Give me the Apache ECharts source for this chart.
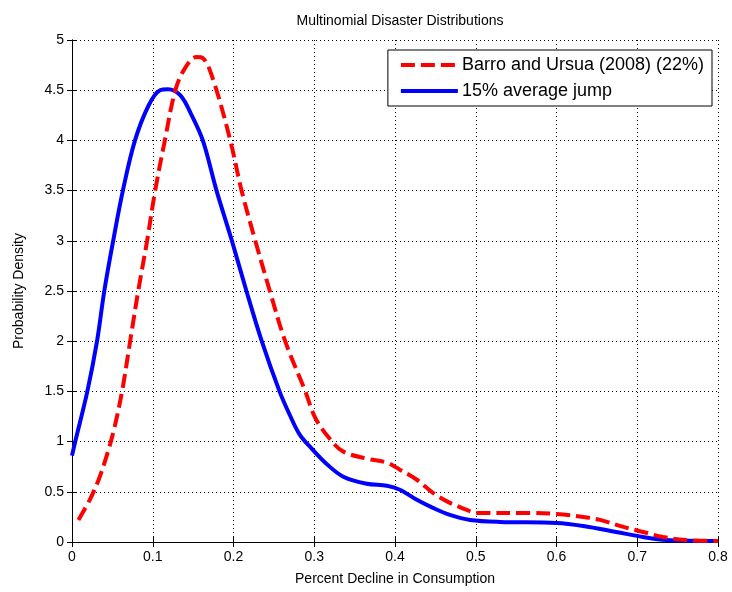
<!DOCTYPE html>
<html>
<head>
<meta charset="utf-8">
<script src="https://cdn.jsdelivr.net/npm/echarts@6/dist/echarts.min.js"></script>
<style>
  html, body { margin: 0; padding: 0; background: #fff; }
</style>
</head>
<body>
<div id="main" style="width: 732px; height: 592px;"></div>
<script type="text/javascript">
// x-ticks and y-ticks
var xTicks = [0, 0.1, 0.2, 0.3, 0.4, 0.5, 0.6, 0.7, 0.8];
var yTicks = [0, 0.5, 1, 1.5, 2, 2.5, 3, 3.5, 4, 4.5, 5];

// Barro and Ursua (2008) (22%)
var barroX = [0.008, 0.022, 0.033, 0.043, 0.052, 0.062, 0.072, 0.082, 0.093, 0.103, 0.115, 0.128, 0.14, 0.154, 0.162, 0.175, 0.196, 0.21, 0.227, 0.245, 0.264, 0.289, 0.301, 0.32, 0.336, 0.365, 0.39, 0.406, 0.427, 0.447, 0.468, 0.489, 0.5, 0.57, 0.6, 0.633, 0.654, 0.683, 0.707, 0.732, 0.76, 0.8];
var barroY = [0.22, 0.42, 0.62, 0.86, 1.12, 1.5, 2.0, 2.5, 3.0, 3.5, 4.0, 4.5, 4.72, 4.83, 4.82, 4.6, 4.0, 3.5, 3.0, 2.5, 2.0, 1.5, 1.24, 1.02, 0.9, 0.83, 0.79, 0.72, 0.62, 0.49, 0.39, 0.32, 0.29, 0.29, 0.28, 0.25, 0.22, 0.15, 0.10, 0.05, 0.02, 0.01];

// 15% average jump
var jumpX = [0, 0.004, 0.019, 0.031, 0.04, 0.051, 0.063, 0.078, 0.095, 0.109, 0.119, 0.134, 0.147, 0.162, 0.179, 0.198, 0.216, 0.235, 0.257, 0.27, 0.282, 0.298, 0.315, 0.336, 0.365, 0.39, 0.406, 0.427, 0.447, 0.468, 0.493, 0.53, 0.6, 0.633, 0.674, 0.707, 0.736, 0.8];
var jumpY = [0.86, 1.0, 1.5, 2.0, 2.5, 3.0, 3.5, 4.0, 4.35, 4.5, 4.51, 4.45, 4.27, 4.0, 3.5, 3.0, 2.5, 2.0, 1.5, 1.26, 1.07, 0.92, 0.78, 0.65, 0.58, 0.56, 0.52, 0.42, 0.34, 0.27, 0.22, 0.20, 0.19, 0.16, 0.10, 0.05, 0.02, 0.01];

function pairs(xs, ys) {
    var out = [];
    for (var i = 0; i < xs.length; i++) out.push([xs[i], ys[i]]);
    return out;
}

var chartDom = document.getElementById('main');
var myChart = echarts.init(chartDom);
var font = 'Liberation Sans';

var option = {
    animation: false,
    backgroundColor: '#fff',
    title: {
        text: 'Multinomial Disaster Distributions',
        left: 395, top: 9, textAlign: 'center',
        textStyle: { fontFamily: font, fontSize: 14, fontWeight: 'normal', color: '#000' }
    },
    legend: {
        data: ['Barro and Ursua (2008) (22%)', '15% average jump'],
        orient: 'vertical',
        right: 20, top: 50,
        padding: [6, 8, 6, 11],
        itemWidth: 57, itemHeight: 14, itemGap: 8,
        itemStyle: { opacity: 0 },
        lineStyle: { width: 4 },
        backgroundColor: '#fff',
        borderColor: '#000', borderWidth: 1, borderRadius: 0,
        textStyle: { fontFamily: font, fontSize: 18, color: '#000', padding: [0, 0, 0, -1] }
    },
    grid: { left: 72, right: 14, top: 40, bottom: 50 },
    xAxis: [{
        type: 'value', min: 0, max: 0.8, interval: 0.1,
        name: 'Percent Decline in Consumption', nameLocation: 'middle', nameGap: 30,
        nameTextStyle: { fontFamily: font, fontSize: 14, color: '#000' },
        axisLine: { show: true, lineStyle: { color: '#000', width: 1 } },
        axisTick: { show: true, inside: true, length: 5, lineStyle: { color: '#000' } },
        axisLabel: { fontFamily: font, fontSize: 14, color: '#000', margin: 8,
            formatter: function (v) { return xTicks.indexOf(+v.toFixed(1)) >= 0 ? String(+v.toFixed(1)) : ''; } },
        splitLine: { show: true, lineStyle: { color: '#000', type: [1, 3], width: 1 } }
    }, {
        type: 'value', position: 'top', min: 0, max: 0.8, interval: 0.1,
        axisLine: { show: true, lineStyle: { color: '#000', width: 1 } },
        axisTick: { show: true, inside: true, length: 5, lineStyle: { color: '#000' } },
        axisLabel: { show: false }, splitLine: { show: false }
    }],
    yAxis: [{
        type: 'value', min: 0, max: 5, interval: 0.5,
        name: 'Probability Density', nameLocation: 'middle', nameGap: 46,
        nameTextStyle: { fontFamily: font, fontSize: 14, color: '#000' },
        axisLine: { show: true, lineStyle: { color: '#000', width: 1 } },
        axisTick: { show: true, inside: true, length: 5, lineStyle: { color: '#000' } },
        axisLabel: { fontFamily: font, fontSize: 14, color: '#000', margin: 8,
            formatter: function (v) { return yTicks.indexOf(+v.toFixed(1)) >= 0 ? String(+v.toFixed(1)) : ''; } },
        splitLine: { show: true, lineStyle: { color: '#000', type: [1, 3], width: 1 } }
    }, {
        type: 'value', position: 'right', min: 0, max: 5, interval: 0.5,
        axisLine: { show: true, lineStyle: { color: '#000', width: 1 } },
        axisTick: { show: true, inside: true, length: 5, lineStyle: { color: '#000' } },
        axisLabel: { show: false }, splitLine: { show: false }
    }],
    series: [
        {
            name: '15% average jump', type: 'line', smooth: 0.35,
            symbol: 'none', z: 2,
            lineStyle: { color: '#0000ff', width: 4 },
            itemStyle: { color: '#0000ff' },
            data: pairs(jumpX, jumpY)
        },
        {
            name: 'Barro and Ursua (2008) (22%)', type: 'line', smooth: 0.35,
            symbol: 'none', z: 3,
            lineStyle: { color: '#ff0000', width: 4, type: [14, 6] },
            itemStyle: { color: '#ff0000' },
            data: pairs(barroX, barroY)
        }
    ]
};

option && myChart.setOption(option);
</script>
</body>
</html>
